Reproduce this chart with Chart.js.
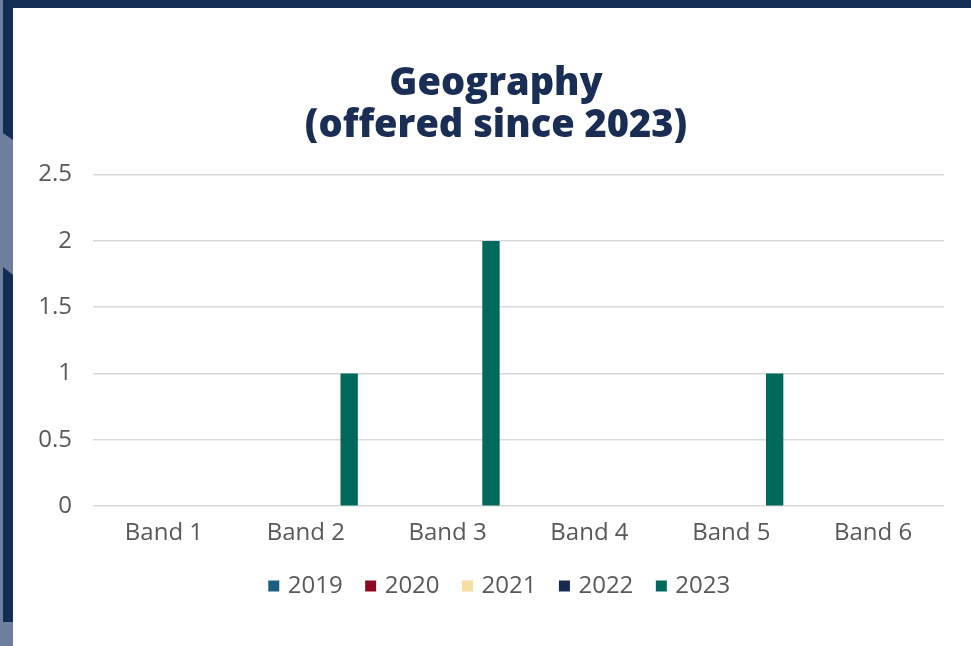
<!DOCTYPE html>
<html>
<head>
<meta charset="utf-8">
<script src="https://cdn.jsdelivr.net/npm/chart.js@4"></script>
<style>
  html, body { margin: 0; padding: 0; background: #ffffff; }
  body { width: 971px; height: 646px; position: relative; overflow: hidden; }
  .topbar { position: absolute; left: 0; top: 0; width: 971px; height: 8px; background: #142d55; }
  .side { position: absolute; left: 0; top: 0; width: 13px; height: 646px; background: #6e7f9b; }
  .side-navy { position: absolute; left: 3px; width: 10px; background: #142d55; }
  .n1 { top: 0; height: 140px; clip-path: polygon(0 0, 100% 0, 100% 100%, 0 calc(100% - 7px)); }
  .n2 { top: 267px; height: 355px; clip-path: polygon(0 0, 100% 8px, 100% 100%, 0 100%); }
  .panel { position: absolute; left: 13px; top: 8px; width: 958px; height: 638px; background: #ffffff; }
</style>
</head>
<body>
<div class="topbar"></div>
<div class="side"><div class="side-navy n1"></div><div class="side-navy n2"></div></div>
<div class="panel"><canvas id="chart" width="958" height="638"></canvas></div>
<script>
// Bands on the x axis
const categories = ['Band 1', 'Band 2', 'Band 3', 'Band 4', 'Band 5', 'Band 6'];

// Number of students per band, one array per year
const years = ['2019', '2020', '2021', '2022', '2023'];
const values2019 = [0, 0, 0, 0, 0, 0];
const values2020 = [0, 0, 0, 0, 0, 0];
const values2021 = [0, 0, 0, 0, 0, 0];
const values2022 = [0, 0, 0, 0, 0, 0];
const values2023 = [0, 1, 2, 0, 1, 0];

const yTicks = [0, 0.5, 1, 1.5, 2, 2.5];

const titleLines = ['Geography', '(offered since 2023)'];

const yearColors = ['#1b5e81', '#8c0a21', '#f5dea0', '#16294f', '#00695c'];
const seriesValues = [values2019, values2020, values2021, values2022, values2023];

const datasets = years.map((y, i) => ({
  label: y,
  data: seriesValues[i],
  backgroundColor: yearColors[i],
  borderWidth: 0,
  categoryPercentage: 0.765,
  barPercentage: 0.8
}));

const font = "'Open Sans', 'Liberation Sans', sans-serif";
const textGrey = '#595959';

// Centre the title and legend over the whole panel rather than the
// space left of the right-hand padding, and pull the legend up a little.
const recentreBlocks = {
  id: 'recentreBlocks',
  afterLayout(chart) {
    if (chart.titleBlock) chart.titleBlock.left += 35;
    if (chart.legend) {
      chart.legend.left += 45;
      chart.legend.top -= 13;
      chart.legend.bottom -= 13;
    }
  }
};

new Chart(document.getElementById('chart'), {
  type: 'bar',
  data: { labels: categories, datasets },
  plugins: [recentreBlocks],
  options: {
    responsive: false,
    animation: false,
    layout: { padding: { left: 0, right: 27, top: 0, bottom: 25 } },
    plugins: {
      title: {
        display: true,
        text: titleLines,
        color: '#1a2d55',
        font: { family: font, size: 38, weight: '800', lineHeight: 1.1 },
        padding: { top: 55, bottom: 28 }
      },
      legend: {
        position: 'bottom',
        labels: {
          usePointStyle: true,
          pointStyle: 'rect',
          boxWidth: 4,
          boxHeight: 11,
          padding: 26,
          color: textGrey,
          font: { family: font, size: 24 }
        }
      },
      tooltip: { enabled: false }
    },
    scales: {
      x: {
        grid: { display: false, drawTicks: false },
        border: { display: false },
        ticks: { color: textGrey, font: { family: font, size: 24 }, padding: 13, maxRotation: 0 }
      },
      y: {
        min: yTicks[0],
        max: yTicks[yTicks.length - 1],
        afterBuildTicks: (scale) => { scale.ticks = yTicks.map(v => ({ value: v })); },
        afterFit: (scale) => { scale.width = 80; },
        grid: { color: '#d9d9d9', lineWidth: 1.5, drawTicks: false },
        border: { display: false },
        ticks: { color: textGrey, font: { family: font, size: 24 }, padding: 21, callback: (v) => String(v) }
      }
    }
  }
});
</script>
</body>
</html>
